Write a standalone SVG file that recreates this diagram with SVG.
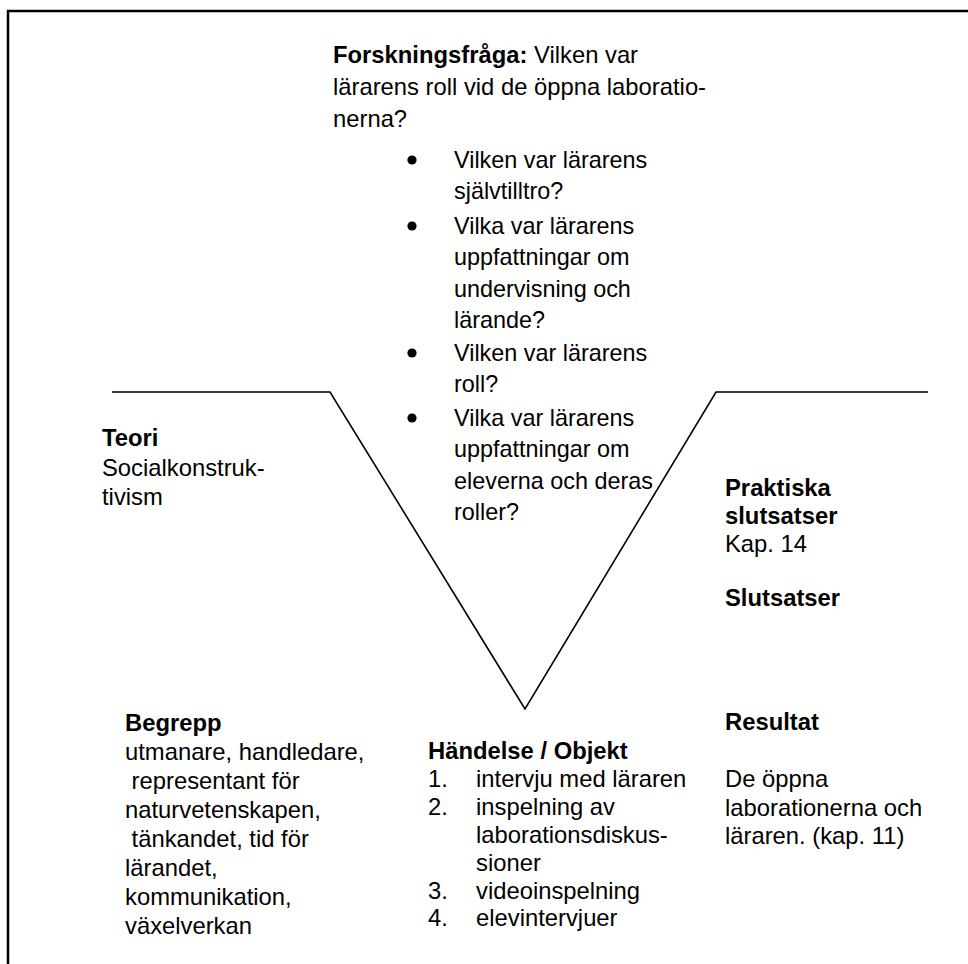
<svg xmlns="http://www.w3.org/2000/svg" width="968" height="964" viewBox="0 0 968 964">
  <style>
    text { font-family: "Liberation Sans", Arial, sans-serif; font-size: 23.8px; fill: #000; }
    .b { font-weight: bold; }
    .item { font-size: 23.4px; }
    .frame { fill: none; stroke: #000; stroke-width: 2.5; }
    .vee { fill: none; stroke: #000; stroke-width: 1.6; }
  </style>
  <rect width="968" height="964" fill="#fff"/>
  <!-- page frame (open at right and bottom) -->
  <polyline class="frame" points="8,964 8,11 968,11"/>

  <!-- V-shaped outline -->
  <g id="connectors">
    <polyline class="vee" points="112,392 330,392 525,709 716,392 928,392"/>
  </g>

  <g id="question">
    <text x="333" y="63"><tspan class="b">Forskningsfråga:</tspan> Vilken var</text>
    <text x="333" y="95">lärarens roll vid de öppna laboratio-</text>
    <text x="333" y="127">nerna?</text>
    <circle cx="412" cy="160" r="4.6"/>
    <text class="item" x="454" y="168">Vilken var lärarens</text>
    <text class="item" x="454" y="199">självtilltro?</text>
    <circle cx="412" cy="226" r="4.6"/>
    <text class="item" x="454" y="234">Vilka var lärarens</text>
    <text class="item" x="454" y="265">uppfattningar om</text>
    <text class="item" x="454" y="297">undervisning och</text>
    <text class="item" x="454" y="328">lärande?</text>
    <circle cx="412" cy="353" r="4.6"/>
    <text class="item" x="454" y="361">Vilken var lärarens</text>
    <text class="item" x="454" y="392">roll?</text>
    <circle cx="412" cy="418" r="4.6"/>
    <text class="item" x="454" y="426">Vilka var lärarens</text>
    <text class="item" x="454" y="457">uppfattningar om</text>
    <text class="item" x="454" y="489">eleverna och deras</text>
    <text class="item" x="454" y="520">roller?</text>
  </g>

  <g id="teori">
    <text x="102" y="446" class="b">Teori</text>
    <text x="102" y="476">Socialkonstruk-</text>
    <text x="102" y="505">tivism</text>
  </g>

  <g id="slutsatser">
    <text x="725" y="496" class="b">Praktiska</text>
    <text x="725" y="524" class="b">slutsatser</text>
    <text x="725" y="552">Kap. 14</text>
    <text x="725" y="606" class="b">Slutsatser</text>
  </g>

  <g id="begrepp">
    <text x="125" y="731" class="b">Begrepp</text>
    <text x="125" y="760">utmanare, handledare,</text>
    <text x="125" y="789" xml:space="preserve"> representant för</text>
    <text x="125" y="818">naturvetenskapen,</text>
    <text x="125" y="847" xml:space="preserve"> tänkandet, tid för</text>
    <text x="125" y="876">lärandet,</text>
    <text x="125" y="905">kommunikation,</text>
    <text x="125" y="934">växelverkan</text>
  </g>

  <g id="handelse">
    <text x="428" y="759" class="b">Händelse / Objekt</text>
    <text x="428" y="787">1.</text><text x="476" y="787">intervju med läraren</text>
    <text x="428" y="815">2.</text><text x="476" y="815">inspelning av</text>
    <text x="476" y="843">laborationsdiskus-</text>
    <text x="476" y="871">sioner</text>
    <text x="428" y="899">3.</text><text x="476" y="899">videoinspelning</text>
    <text x="428" y="926">4.</text><text x="476" y="926">elevintervjuer</text>
  </g>

  <g id="resultat">
    <text x="725" y="730" class="b">Resultat</text>
    <text x="725" y="787">De öppna</text>
    <text x="725" y="816">laborationerna och</text>
    <text x="725" y="844">läraren. (kap. 11)</text>
  </g>
</svg>
